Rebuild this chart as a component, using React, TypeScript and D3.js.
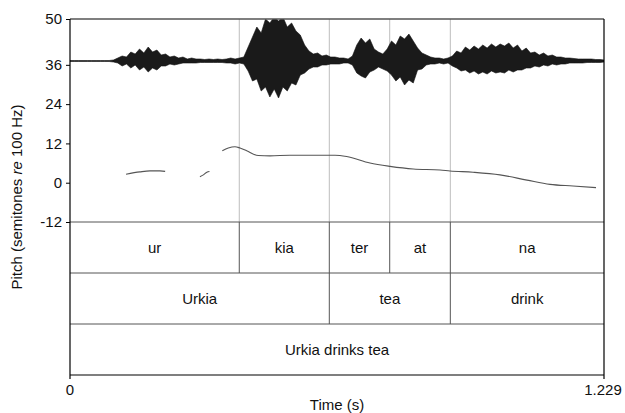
import { useEffect, useRef } from 'react';
import * as d3 from 'd3';

// time axis (s)
const duration = 1.229;

// waveform envelope, sampled every 10 ms (last sample at the end of the file), arbitrary amplitude units
const waveStep = 0.01;
const waveUp = [
    0.5, 0.5, 0.5, 0.5, 0.5, 0.5, 0.5, 0.5, 0.5, 0.5,
    1, 3, 5, 4, 9, 7, 12, 8, 14, 9, 11, 6, 7, 4, 5,
    3, 4, 2, 3, 2, 2, 1.5, 2, 1.5, 2, 1.5, 2, 3, 2, 3, 4,
    14, 24, 34, 28, 42, 38, 44, 40, 44, 34, 38, 30, 26, 16,
    10, 7, 8, 5, 6, 4, 4, 3, 3, 2, 5,
    16, 23, 18, 22, 12, 9, 7, 12,
    20, 16, 25, 22, 27, 20, 13, 8, 6,
    4, 3, 3, 2, 3,
    5, 10, 8, 14, 11, 15, 12, 16, 13, 17, 14, 17, 15, 18, 13, 16,
    10, 13, 8, 9, 6, 8, 5, 6, 4, 4, 3, 3, 2.5, 2, 2, 2, 2, 1.5, 1.5, 1,
];
const waveDown = [
    0.5, 0.5, 0.5, 0.5, 0.5, 0.5, 0.5, 0.5, 0.5, 0.5,
    1, 2, 5, 3, 7, 4, 9, 6, 11, 7, 9, 5, 5, 3, 4,
    3, 2, 2, 2, 2, 1.5, 1.5, 1.5, 1.5, 1.5, 1.5, 2, 2, 3, 2, 3,
    10, 20, 18, 30, 26, 36, 28, 37, 26, 30, 22, 24, 14, 12,
    8, 6, 6, 4, 4, 3, 3, 3, 2, 2, 4,
    12, 15, 17, 11, 9, 6, 8, 10,
    14, 20, 16, 24, 19, 22, 9, 8, 4,
    3, 3, 2, 3, 2,
    5, 7, 10, 9, 12, 10, 13, 11, 13, 10, 12, 11, 12, 9, 11, 9,
    9, 7, 7, 5, 6, 4, 5, 3, 4, 3, 3, 2, 2, 2, 2, 1.5, 1.5, 1.5, 1.5, 1,
];

// pitch contour (semitones re 100 Hz), three voiced stretches
const pitchSegments = [
    [[0.129, 2.6], [0.161, 3.3], [0.184, 3.6], [0.207, 3.6], [0.219, 3.45]],
    [[0.299, 1.85], [0.307, 2.4], [0.315, 3.2], [0.321, 3.4]],
    [
        [0.3505, 9.75], [0.3643, 10.6], [0.3797, 11.0], [0.3913, 10.6], [0.4067, 9.75],
        [0.4334, 8.3], [0.4603, 8.2], [0.5063, 8.4], [0.6099, 8.4], [0.6368, 8.0],
        [0.6904, 6.0], [0.7365, 5.0], [0.7901, 4.2], [0.8516, 3.9], [0.8746, 3.6],
        [0.9275, 3.2], [0.9896, 2.4], [1.0518, 0.8], [1.1047, -0.5], [1.1576, -1.0],
        [1.2106, -1.5],
    ],
];
const pitchTicks = [50, 36, 24, 12, 0, -12];

// text grid tiers
const syllables = ['ur', 'kia', 'ter', 'at', 'na'];
const syllableBounds = [0, 0.3896, 0.5968, 0.7358, 0.8753, duration];
const words = ['Urkia', 'tea', 'drink'];
const wordBounds = [0, 0.5968, 0.8753, duration];
const sentence = ['Urkia drinks tea'];
const sentenceBounds = [0, duration];

const App = () => {
    const ref = useRef<SVGSVGElement>(null);
    const width = 625,
        height = 413;

    useEffect(() => {
        const svg = d3.select(ref.current).attr('width', width).attr('height', height);
        svg.selectAll('*').remove();

        const left = 70,
            right = 604,
            top = 19,
            pitchBottom = 222,
            tierH = 51;
        const bottom = pitchBottom + tierH * 3;
        const font = 'Liberation Sans, Arial, sans-serif';

        const x = d3.scaleLinear().domain([0, duration]).range([left, right]);
        const yPitch = d3.scaleLinear().domain([-12, 50]).range([pitchBottom, top]);
        const yWave = d3.scaleLinear().domain([-42, 42]).range([61 + 42, 61 - 42]);

        // interval boundaries through the signal panel
        svg.append('g')
            .selectAll('line')
            .data(syllableBounds.slice(1, -1))
            .enter()
            .append('line')
            .attr('x1', (d) => x(d))
            .attr('x2', (d) => x(d))
            .attr('y1', top)
            .attr('y2', pitchBottom)
            .attr('stroke', '#bdbdbd')
            .attr('stroke-width', 1);

        // waveform
        svg.append('clipPath')
            .attr('id', 'wave-clip')
            .append('rect')
            .attr('x', left)
            .attr('y', top)
            .attr('width', right - left)
            .attr('height', pitchBottom - top);

        const waveData = waveUp.map((u, i) => ({
            t: i === waveUp.length - 1 ? duration : i * waveStep,
            up: u,
            down: waveDown[i],
        }));
        const area = d3
            .area<{ t: number; up: number; down: number }>()
            .x((d) => x(d.t))
            .y0((d) => yWave(-d.down))
            .y1((d) => yWave(d.up));
        svg.append('path')
            .datum(waveData)
            .attr('clip-path', 'url(#wave-clip)')
            .attr('d', area)
            .attr('fill', '#1a1a1a')
            .attr('stroke', '#111')
            .attr('stroke-width', 0.6);

        // pitch
        const pitchLine = d3
            .line<number[]>()
            .x((d) => x(d[0]))
            .y((d) => yPitch(d[1]))
            .curve(d3.curveMonotoneX);
        svg.append('g')
            .selectAll('path')
            .data(pitchSegments)
            .enter()
            .append('path')
            .attr('d', (d) => pitchLine(d))
            .attr('fill', 'none')
            .attr('stroke', '#555')
            .attr('stroke-width', 1.1);

        // tiers
        const tiers = [
            { labels: syllables, bounds: syllableBounds },
            { labels: words, bounds: wordBounds },
            { labels: sentence, bounds: sentenceBounds },
        ];
        tiers.forEach((tier, k) => {
            const y0 = pitchBottom + k * tierH;
            const g = svg.append('g');
            g.selectAll('line')
                .data(tier.bounds.slice(1, -1))
                .enter()
                .append('line')
                .attr('x1', (d) => x(d))
                .attr('x2', (d) => x(d))
                .attr('y1', y0)
                .attr('y2', y0 + tierH)
                .attr('stroke', '#555')
                .attr('stroke-width', 1);
            g.selectAll('text')
                .data(tier.labels)
                .enter()
                .append('text')
                .attr('x', (d, i) => (x(tier.bounds[i]) + x(tier.bounds[i + 1])) / 2)
                .attr('y', y0 + tierH / 2 + 5)
                .attr('text-anchor', 'middle')
                .attr('font-family', font)
                .attr('font-size', '15px')
                .attr('fill', '#111')
                .text((d) => d);
        });

        // tier separators
        svg.append('g')
            .selectAll('line')
            .data([0, 1, 2])
            .enter()
            .append('line')
            .attr('x1', left)
            .attr('x2', right)
            .attr('y1', (d) => pitchBottom + d * tierH)
            .attr('y2', (d) => pitchBottom + d * tierH)
            .attr('stroke', '#555')
            .attr('stroke-width', 1);

        // frame
        svg.append('line')
            .attr('x1', left).attr('x2', right).attr('y1', top).attr('y2', top)
            .attr('stroke', '#555').attr('stroke-width', 1.6);
        svg.append('line')
            .attr('x1', left).attr('x2', right).attr('y1', bottom).attr('y2', bottom)
            .attr('stroke', '#555').attr('stroke-width', 1.6);
        svg.append('line')
            .attr('x1', left).attr('x2', left).attr('y1', top).attr('y2', bottom + 4)
            .attr('stroke', '#000').attr('stroke-width', 1.2);
        svg.append('line')
            .attr('x1', right).attr('x2', right).attr('y1', top).attr('y2', bottom + 4)
            .attr('stroke', '#000').attr('stroke-width', 1.2);

        // y axis
        const yAxis = svg.append('g').attr('transform', `translate(${left},0)`)
            .call(d3.axisLeft(yPitch).tickValues(pitchTicks).tickSize(4).tickFormat((d) => `${d}`));
        yAxis.select('.domain').remove();
        yAxis.selectAll('.tick line').attr('stroke', '#000');
        yAxis.selectAll('.tick text')
            .attr('font-family', font)
            .attr('font-size', '15px')
            .attr('fill', '#111')
            .attr('dx', '-1');

        // x axis labels
        [0, duration].forEach((t) => {
            svg.append('text')
                .attr('x', x(t) + (t === 0 ? 0 : -1))
                .attr('y', bottom + 20)
                .attr('text-anchor', 'middle')
                .attr('font-family', font)
                .attr('font-size', '15px')
                .attr('fill', '#111')
                .text(t === 0 ? '0' : `${t}`);
        });

        svg.append('text')
            .attr('x', (left + right) / 2)
            .attr('y', bottom + 35)
            .attr('text-anchor', 'middle')
            .attr('font-family', font)
            .attr('font-size', '15px')
            .attr('fill', '#111')
            .text('Time (s)');

        const yTitle = svg.append('text')
            .attr('transform', `translate(22,${(top + bottom) / 2}) rotate(-90)`)
            .attr('text-anchor', 'middle')
            .attr('font-family', font)
            .attr('font-size', '15px')
            .attr('fill', '#111');
        yTitle.append('tspan').text('Pitch (semitones ');
        yTitle.append('tspan').attr('font-style', 'italic').text('re');
        yTitle.append('tspan').text(' 100 Hz)');
    }, []);

    return <svg ref={ref} style={{ position: 'absolute', left: 0, top: 0 }}></svg>;
};

export default App;
